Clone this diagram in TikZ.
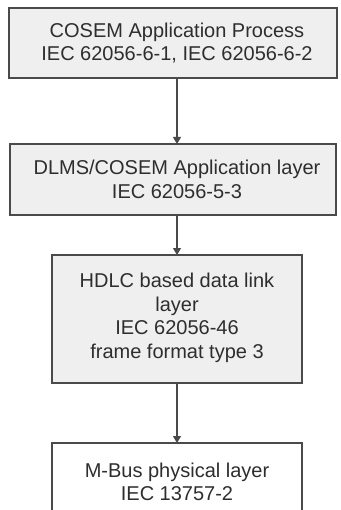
\documentclass[tikz,border=0pt]{standalone}
\usepackage{fontspec}
\setmainfont{Liberation Sans}
\usetikzlibrary{arrows.meta}
\definecolor{boxfill}{HTML}{EFEFEF}
\definecolor{edge}{HTML}{4A4A4A}
\definecolor{txt}{HTML}{2E2E2E}
\tikzset{
  box/.style={draw=edge, line width=1.6pt, fill=boxfill, inner sep=0pt, outer sep=0pt},
  wbox/.style={box, fill=white},
  lbl/.style={align=center, text=txt, inner sep=0pt, font=\fontsize{20}{23.5}\selectfont},
  arr/.style={draw=edge, line width=1.1pt, -{Triangle[width=8pt,length=7pt]}}
}
\begin{document}
\begin{tikzpicture}[x=1pt,y=-1pt]
\useasboundingbox (0,0) rectangle (340,510);
\clip (0,0) rectangle (340,510);
\node[box, minimum width=328pt, minimum height=70pt] (b1) at (173,43) {};
\node[box, minimum width=326pt, minimum height=71pt] (b2) at (173,179.5) {};
\node[box, minimum width=250pt, minimum height=128pt] (b3) at (177,319) {};
\node[wbox, minimum width=250pt, minimum height=78pt] (b4) at (177,482) {};
\node[lbl] (t1) at (177,43) {COSEM Application Process\\IEC 62056-6-1, IEC 62056-6-2};
\node[lbl] (t2) at (177,179.5) {DLMS/COSEM Application layer\\IEC 62056-5-3};
\node[lbl] (t3) at (177,318) {HDLC based data link\\layer\\IEC 62056-46\\frame format type 3};
\node[lbl] (t4) at (177,482) {M-Bus physical layer\\IEC 13757-2};
\draw[arr] (b1.south -| b3.north) -- (b2.north -| b3.north);
\draw[arr] (b2.south -| b3.north) -- (b3.north);
\draw[arr] (b3.south) -- (b4.north);
\end{tikzpicture}
\end{document}
